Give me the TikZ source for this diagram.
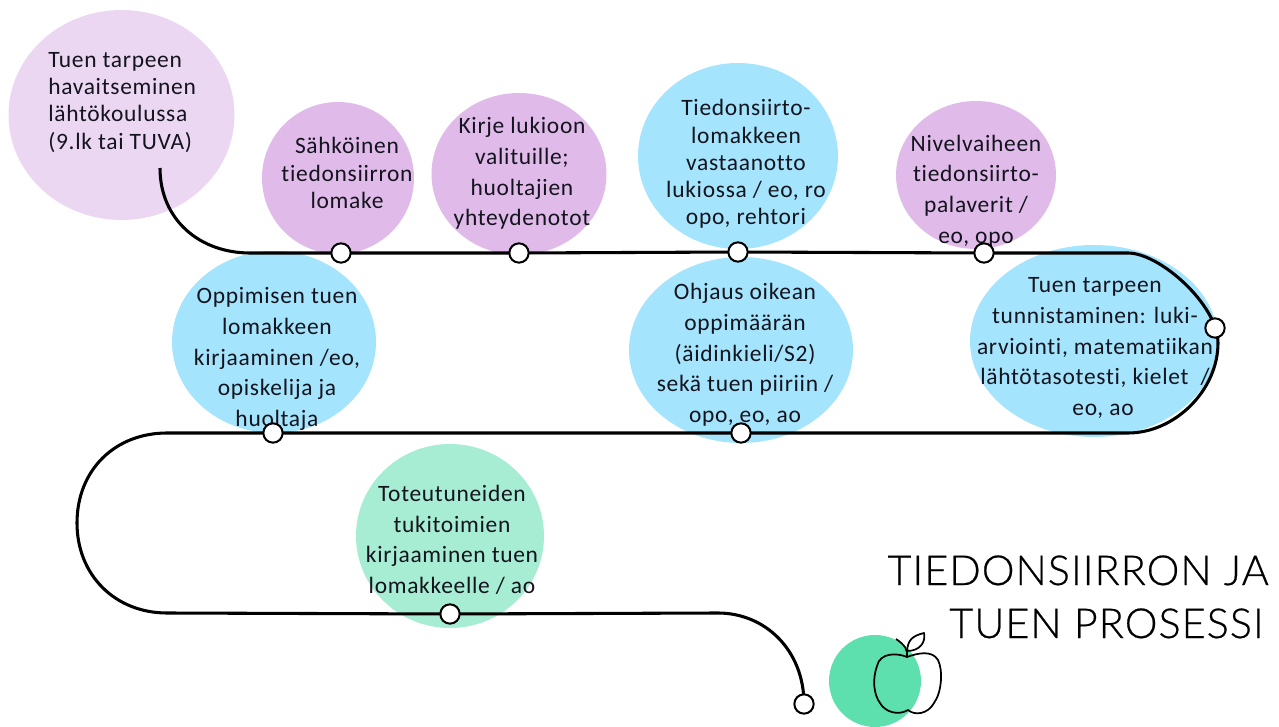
\documentclass[tikz,border=0pt]{standalone}
\usepackage{fontspec}
\setmainfont[Ligatures=NoCommon]{Carlito}
\newfontfamily\titlefont[FakeBold=0.5]{Lato Light}
\definecolor{pinkA}{HTML}{ECD7F3}
\definecolor{pinkB}{HTML}{E0BBEA}
\definecolor{blueA}{HTML}{A4E4FD}
\definecolor{greenA}{HTML}{A6EDD3}
\definecolor{greenB}{HTML}{5EE0AE}
\definecolor{ink}{HTML}{14141E}
\tikzset{
 lbl/.style={font=\fontsize{17.6}{20.4}\selectfont\addfontfeatures{LetterSpace=3},text=ink,align=center,inner sep=0pt},
 lblw/.style={font=\fontsize{17.6}{23}\selectfont\addfontfeatures{LetterSpace=3},text=ink,align=center,inner sep=0pt},
 mark dot/.style={circle,draw=black,fill=white,line width=1.5pt,minimum size=14.5pt,inner sep=0pt},
 route/.style={draw=black,line width=2.3pt},
 ttl/.style={font=\titlefont\fontsize{31}{36}\selectfont\addfontfeatures{LetterSpace=2.5},text=black,anchor=base east,inner sep=0pt},
 appleline/.style={draw=black,line width=1.3pt,line join=round},
}
\begin{document}
\begin{tikzpicture}[x=0.75pt,y=-0.75pt]
\useasboundingbox (0,0) rectangle (1279,727);
\fill[pinkA] (121.5,115) ellipse [x radius=113,y radius=105];
\fill[pinkB] (338,178) ellipse [x radius=76,y radius=76];
\fill[pinkB] (519,174) ellipse [x radius=87.5,y radius=81];
\fill[blueA] (738,156) ellipse [x radius=100,y radius=93];
\fill[pinkB] (976,175) ellipse [x radius=80,y radius=74];
\fill[blueA] (1094,341) ellipse [x radius=124,y radius=96];
\fill[blueA] (741,350) ellipse [x radius=112,y radius=93];
\fill[blueA] (274,342) ellipse [x radius=102,y radius=91];
\fill[greenA] (450,536) ellipse [x radius=94,y radius=92];
\fill[greenB] (875,681) ellipse [x radius=46,y radius=46];

\coordinate (start) at (160,168);
\coordinate (a) at (250,253);
\coordinate (p1) at (341,253);
\coordinate (p2) at (519,253);
\coordinate (p3) at (738,252);
\coordinate (p4) at (984,253);
\coordinate (b) at (1128,253);
\coordinate (p5) at (1215,328);
\coordinate (c) at (1128,433);
\coordinate (p6) at (741,433);
\coordinate (p7) at (273,433);
\coordinate (d) at (167,433);
\coordinate (e) at (167,613);
\coordinate (p8) at (450,614);
\coordinate (f) at (718,613);
\coordinate (p9) at (804,704);

\node[lbl,align=left,anchor=west] (t1) at (48,102.5) {Tuen tarpeen\\havaitseminen\\lähtökoulussa\\(9.lk tai TUVA)};
\node[lbl] (t2) at (347,173) {Sähköinen\\tiedonsiirron\\lomake};
\node[lblw] (t3) at (522,173.5) {Kirje lukioon\\valituille;\\huoltajien\\yhteydenotot};
\node[lbl] (t4) at (746,164) {Tiedonsiirto-\\lomakkeen\\vastaanotto\\lukiossa / eo, ro\\opo, rehtori};
\node[lblw] (t5) at (976,191) {Nivelvaiheen\\tiedonsiirto-\\palaverit /\\eo, opo};
\node[lblw] (t6) at (1095,348) {Tuen tarpeen\\tunnistaminen: luki-\\arviointi, matematiikan\\lähtötasotesti, kielet \ /\\\hspace*{12pt}eo, ao};
\node[lblw] (t7) at (745,355) {Ohjaus oikean\\oppimäärän\\(äidinkieli/S2)\\sekä tuen piiriin /\\opo, eo, ao};
\node[lblw] (t8) at (277,359) {Oppimisen tuen\\lomakkeen\\kirjaaminen /eo,\\opiskelija ja\\huoltaja};
\node[lblw] (t9) at (452,540) {Toteutuneiden\\tukitoimien\\kirjaaminen tuen\\lomakkeelle / ao};

\draw[route] (start) .. controls (160,220) and (200,253) .. (a) -- (p1) -- (p2) -- (p3) -- (p4) -- (b)
  .. controls (1160,253) and (1218,305) .. (1218,343)
  .. controls (1218,390) and (1175,433) .. (c) -- (p6) -- (p7) -- (d)
  .. controls (115,433) and (77,470) .. (77,523)
  .. controls (77,575) and (115,613) .. (e) -- (p8) -- (f)
  .. controls (765,613) and (804,650) .. (p9);

\foreach \p in {p1,p2,p3,p4,p5,p6,p7,p8,p9}
  \node[mark dot] (dot\p) at (\p) {};

\node[ttl] (title1) at (1269,585) {TIEDONSIIRRON JA};
\node[ttl] (title2) at (1264,638) {TUEN PROSESSI};

% apple
\draw[appleline] (907,657) .. controls (898,653) and (880,652) .. (877,666)
  .. controls (872,680) and (874,695) .. (880,703)
  .. controls (885,712) and (898,716) .. (908,710)
  .. controls (915,716) and (928,714) .. (934,703)
  .. controls (942,692) and (943,670) .. (938,660)
  .. controls (932,650) and (918,653) .. (907,657) -- cycle;
\draw[appleline] (907,657) .. controls (908,650) and (905,645) .. (896,639);
\draw[appleline] (907,651) .. controls (908,640) and (912,636) .. (924,633)
  .. controls (926,642) and (920,651) .. (907,651);
\end{tikzpicture}
\end{document}
